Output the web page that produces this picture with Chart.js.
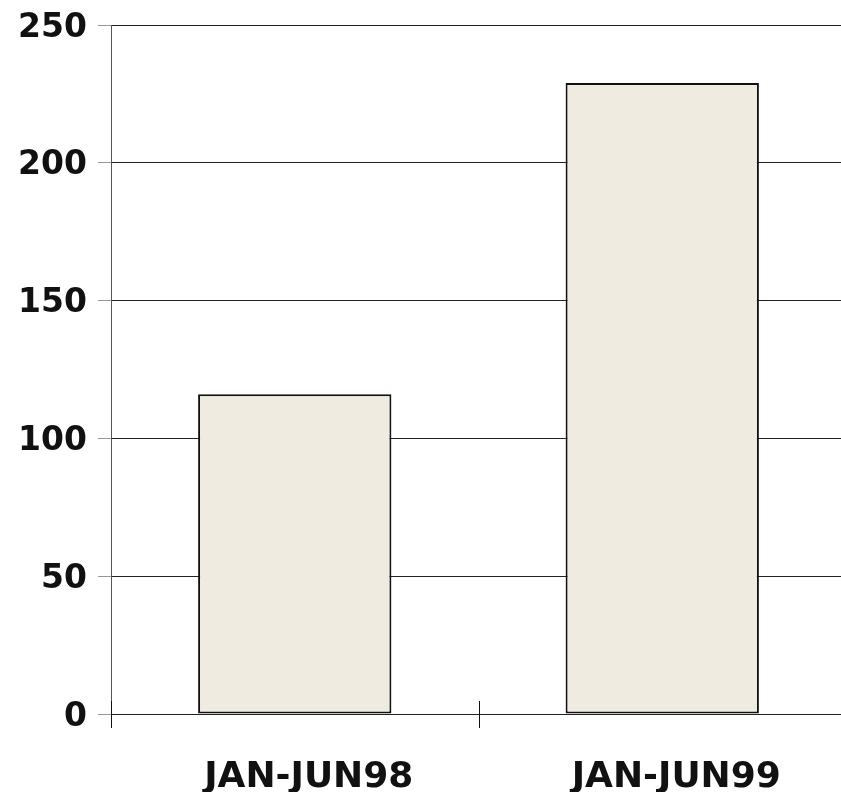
<!DOCTYPE html>
<html>
<head>
<meta charset="utf-8">
<script src="https://cdn.jsdelivr.net/npm/chart.js@4"></script>
<style>
    html, body { margin: 0; padding: 0; background: #fff; overflow: hidden; }
    #wrap { width: 846px; height: 792px; }
</style>
</head>
<body>
<div id="wrap"><canvas id="chart" width="846" height="792"></canvas></div>
<script>
const periods = ['JAN-JUN98', 'JAN-JUN99'];
const totals = [116, 229];
const yTicks = [0, 50, 100, 150, 200, 250];

// short vertical marks on the category boundaries of the x axis
const boundaryTicks = {
    id: 'boundaryTicks',
    afterDraw(chart) {
        const x = chart.scales.x;
        const y0 = chart.scales.y.getPixelForValue(0);
        const half = (x.getPixelForTick(1) - x.getPixelForTick(0)) / 2;
        const ctx = chart.ctx;
        ctx.save();
        ctx.strokeStyle = '#111';
        ctx.lineWidth = 1;
        for (let i = 0; i < periods.length; i++) {
            const px = Math.round(x.getPixelForTick(i) - half) + 0.5;
            ctx.beginPath();
            ctx.moveTo(px, y0 - 13);
            ctx.lineTo(px, y0 + 14);
            ctx.stroke();
        }
        ctx.restore();
    }
};

const ctx = document.getElementById('chart').getContext('2d');
new Chart(ctx, {
    type: 'bar',
    data: {
        labels: periods,
        datasets: [{
            data: totals,
            backgroundColor: '#efebe0',
            borderColor: '#111',
            borderWidth: 2,
            borderSkipped: false,
            categoryPercentage: 1,
            barPercentage: 0.526
        }]
    },
    options: {
        responsive: false,
        animation: false,
        layout: { padding: { top: 25, right: 0, left: 0, bottom: 0 } },
        plugins: {
            legend: { display: false },
            tooltip: { enabled: false }
        },
        scales: {
            x: {
                grid: { display: false },
                border: { display: false },
                ticks: {
                    color: '#111',
                    font: { family: 'DejaVu Sans', size: 36, weight: 'bold' },
                    padding: 34,
                    labelOffset: 14,
                    maxRotation: 0
                },
                afterFit(scale) {
                    scale.height = 78;
                    scale.paddingLeft = 0;
                    scale.paddingRight = 0;
                }
            },
            y: {
                min: 0,
                max: 250,
                afterBuildTicks(scale) {
                    scale.ticks = yTicks.map(v => ({ value: v }));
                },
                grid: {
                    color: '#222',
                    tickColor: '#999',
                    tickLength: 13,
                    lineWidth: 1
                },
                border: { color: '#555', width: 1 },
                ticks: {
                    color: '#111',
                    font: { family: 'DejaVu Sans', size: 33, weight: 'bold' },
                    padding: 11,
                    labelOffset: 3
                },
                afterFit(scale) {
                    scale.width = 111;
                    scale.paddingTop = 0;
                    scale.paddingBottom = 0;
                }
            }
        }
    },
    plugins: [boundaryTicks]
});
</script>
</body>
</html>
